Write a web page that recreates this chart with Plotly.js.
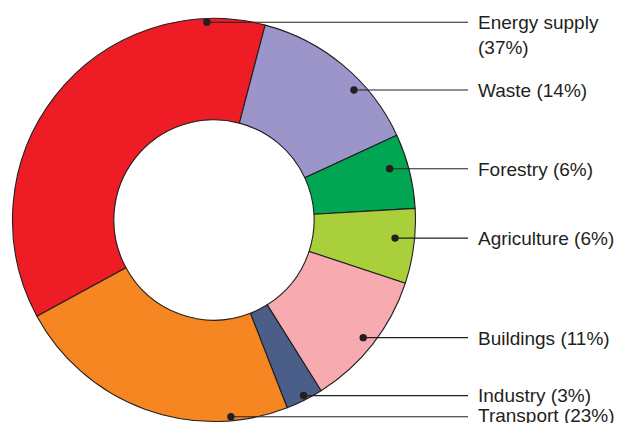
<!DOCTYPE html>
<html>
<head>
<meta charset="utf-8">
<script src="https://cdn.plot.ly/plotly-3.0.1.min.js"></script>
<style>
  html, body { margin: 0; padding: 0; background: #fff; }
  #chart { width: 620px; height: 423px; }
</style>
</head>
<body>
<div id="chart"></div>
<script>
// ---- data ----
const categories = ['Energy supply', 'Waste', 'Forestry', 'Agriculture', 'Buildings', 'Industry', 'Transport'];
const shares = [37, 14, 6, 6, 11, 3, 23];
const sliceColors = ['#EE1C25', '#9B95C9', '#00A651', '#A9CF3B', '#F7ABB0', '#4A5E89', '#F58621'];
const labelTexts = ['Energy supply<br>(37%)', 'Waste (14%)', 'Forestry (6%)', 'Agriculture (6%)',
                    'Buildings (11%)', 'Industry (3%)', 'Transport (23%)'];

// ---- layout constants ----
const W = 620, H = 423;
const cx = 214, cy = 220, R = 201.5;
const rotation = 241.5;
// where, inside each slice, the leader dot sits (fraction of slice angle, fraction of radius)
const dotFrac = [0.874, 0.643, 0.40, 0.417, 0.504, 0.47, 0.198];
const dotRad  = [0.982, 0.948, 0.908, 0.903, 0.943, 0.978, 0.98];
const lineEndX = 468, textX = 476;
const textShift = [12.5, 0.5, 0.5, 0.5, 0.5, 0, -1];
const ink = '#231F20';

const px2x = p => p / W;
const px2y = p => 1 - p / H;

const total = shares.reduce((a, b) => a + b, 0);
const shapes = [];
const annotations = [];
let cum = 0;
shares.forEach((v, i) => {
  const a0 = rotation + 360 * cum / total;
  const a1 = a0 + 360 * v / total;
  cum += v;
  const a = (a0 + dotFrac[i] * (a1 - a0)) * Math.PI / 180;
  const r = dotRad[i] * R;
  const dx = cx + r * Math.sin(a);
  const dy = cy - r * Math.cos(a);
  shapes.push({
    type: 'line', xref: 'paper', yref: 'paper', layer: 'above',
    x0: px2x(dx), y0: px2y(dy), x1: px2x(lineEndX), y1: px2y(dy),
    line: { color: ink, width: 1.2 }
  });
  const dr = 3.7;
  shapes.push({
    type: 'circle', xref: 'paper', yref: 'paper', layer: 'above',
    x0: px2x(dx - dr), x1: px2x(dx + dr), y0: px2y(dy - dr), y1: px2y(dy + dr),
    fillcolor: ink, line: { width: 0 }
  });
  annotations.push({
    xref: 'paper', yref: 'paper', x: px2x(textX), y: px2y(dy + textShift[i]),
    xanchor: 'left', yanchor: 'middle', align: 'left', showarrow: false,
    text: labelTexts[i],
    font: { family: 'Liberation Sans, Arial, sans-serif', size: 19, color: ink }
  });
});

const trace = {
  type: 'pie',
  labels: categories,
  values: shares,
  sort: false,
  direction: 'clockwise',
  rotation: rotation,
  hole: 0.497,
  textinfo: 'none',
  hoverinfo: 'none',
  marker: { colors: sliceColors, line: { color: ink, width: 1.1 } },
  domain: { x: [px2x(cx - R), px2x(cx + R)], y: [px2y(cy + R), px2y(cy - R)] },
  showlegend: false
};

const layout = {
  width: W, height: H,
  margin: { l: 0, r: 0, t: 0, b: 0 },
  paper_bgcolor: '#fff',
  showlegend: false,
  shapes: shapes,
  annotations: annotations
};

Plotly.newPlot('chart', [trace], layout, { displayModeBar: false, staticPlot: true });
</script>
</body>
</html>
